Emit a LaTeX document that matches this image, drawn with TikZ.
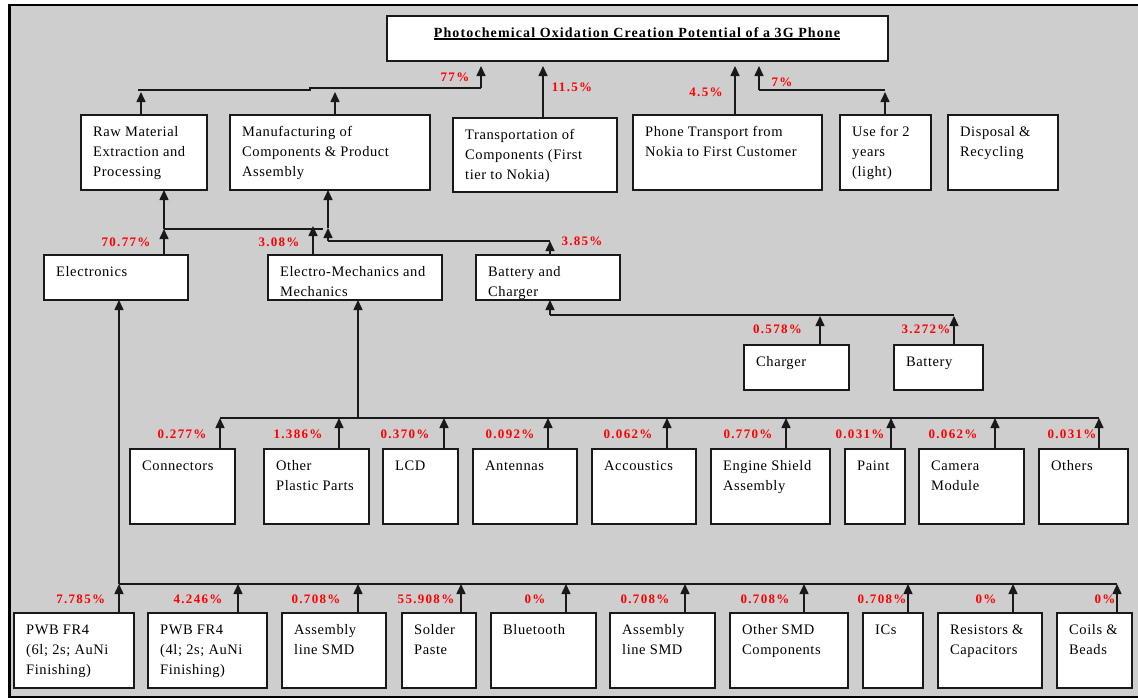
\documentclass[tikz,border=0pt]{standalone}
\usepackage{fontspec}
\setmainfont{Liberation Serif}
\newfontfamily\bodyfont{Liberation Serif}[LetterSpace=4]
\newfontfamily\pctfont{Liberation Serif}[LetterSpace=10]
\newfontfamily\ttlfont{Liberation Serif}[LetterSpace=8]
\usetikzlibrary{arrows.meta}
\definecolor{bg}{HTML}{CECECE}
\definecolor{pctred}{HTML}{FF0000}
\tikzset{
  bx/.style={draw=black!90, line width=1.8pt, fill=white, inner sep=0pt, outer sep=0pt},
  txt/.style={anchor=north west, inner sep=0pt, align=left, font=\bodyfont\fontsize{14.5}{20}\selectfont},
  pct/.style={anchor=base, inner sep=0pt, text=pctred, font=\pctfont\bfseries\fontsize{13}{15}\selectfont},
  arr/.style={draw=black!90, line width=1.5pt, -{Triangle[width=9pt,length=10pt]}},
  wire/.style={draw=black!90, line width=1.5pt},
}
\newcommand\mybox[6]{%
  \node[bx, minimum width={(#4)-(#2)}, minimum height={(#5)-(#3)}] (#1) at ({((#2)+(#4))/2},{((#3)+(#5))/2}) {};
  \node[txt] (#1-t) at ([xshift=12pt,yshift=-10.3pt]#1.north west) {\rule{0pt}{11pt}#6};}
\newcommand\mypct[4]{\node[pct] (#1) at (#2,{(#3)+4.4}) {#4};}
\begin{document}
\begin{tikzpicture}[x=1pt,y=-1pt]
\useasboundingbox (0,0) rectangle (1138,699);
\fill[white] (0,0) rectangle (1138,699);
\fill[bg] (9.5,5) rectangle (1138,697);
\draw[line width=2.6pt, black, line join=miter] (1140,5) -- (9.5,5) -- (9.5,697) -- (1140,697);

% title
\node[bx, minimum width=501, minimum height=45] (title) at (637.5,38.5) {};
\node[anchor=base, inner sep=0pt, font=\ttlfont\bfseries\fontsize{14}{16}\selectfont] (title-t) at (637,37) {Photochemical Oxidation Creation Potential of a 3G Phone};
\draw[line width=1.3pt] ([yshift=-2pt]title-t.base west) -- ([yshift=-2pt]title-t.base east);

% row 1
\mybox{raw}{81}{115}{207}{190}{Raw Material\\Extraction and\\Processing}
\mybox{mfg}{230}{115}{430}{190}{Manufacturing of\\Components \& Product\\Assembly}
\mybox{trans}{453}{118}{617}{192}{Transportation of\\Components (First\\tier to Nokia)}
\mybox{phone}{633}{115}{822}{190}{Phone Transport from\\Nokia to First Customer}
\mybox{use}{840}{115}{931}{190}{Use for 2\\years\\(light)}
\mybox{disp}{948}{115}{1058}{190}{Disposal \&\\Recycling}

% row 2
\mybox{elec}{44}{255}{188}{300}{Electronics}
\mybox{emech}{268}{255}{442}{300}{Electro-Mechanics and\\Mechanics}
\mybox{batt}{476}{255}{620}{300}{Battery and\\Charger}

% row 3
\mybox{chg}{744}{345}{849}{390}{Charger}
\mybox{bat}{894}{345}{983}{390}{Battery}

% row 4
\mybox{conn}{130}{449}{235}{524}{Connectors}
\mybox{plast}{264}{449}{369}{524}{Other\\Plastic Parts}
\mybox{lcd}{383}{449}{458}{524}{LCD}
\mybox{ant}{473}{449}{577}{524}{Antennas}
\mybox{acc}{592}{449}{696}{524}{Accoustics}
\mybox{eng}{711}{449}{830}{524}{Engine Shield\\Assembly}
\mybox{paint}{845}{449}{905}{524}{Paint}
\mybox{cam}{919}{449}{1024}{524}{Camera\\Module}
\mybox{oth}{1039}{449}{1128}{524}{Others}

% row 5
\mybox{pwba}{14}{613}{134}{688}{PWB FR4\\(6l; 2s; AuNi\\Finishing)}
\mybox{pwbb}{148}{613}{267}{688}{PWB FR4\\(4l; 2s; AuNi\\Finishing)}
\mybox{asma}{282}{613}{386}{688}{Assembly\\line SMD}
\mybox{sold}{402}{613}{476}{688}{Solder\\Paste}
\mybox{blue}{491}{613}{596}{688}{Bluetooth}
\mybox{asmb}{610}{613}{715}{688}{Assembly\\line SMD}
\mybox{osmd}{730}{613}{848}{688}{Other SMD\\Components}
\mybox{ics}{863}{613}{923}{688}{ICs}
\mybox{res}{938}{613}{1042}{688}{Resistors \&\\Capacitors}
\mybox{coil}{1057}{613}{1132}{688}{Coils \&\\Beads}

% bus coordinates
\coordinate (busA) at (0,90);
\coordinate (busB) at (0,88);
\coordinate (tipT) at (0,66);
\coordinate (busC) at (0,229);
\coordinate (busD) at (0,241);
\coordinate (busE) at (0,315);
\coordinate (busF) at (0,418);
\coordinate (busG) at (0,584);

% row 1 -> title
\draw[arr] (raw.north -| 141,0) -- ([yshift=-2pt]busA -| 141,0);
\draw[arr] (mfg.north -| 335,0) -- ([yshift=-2pt]busA -| 335,0);
\draw[wire] (busA -| 138,0) -- (busA -| 310,0) -- (busB -| 310,0) -- (busB -| 481,0);
\draw[arr] (busB -| 481,0) -- (tipT -| 481,0);
\draw[arr] (trans.north -| 543,0) -- (tipT -| 543,0);
\draw[arr] (phone.north -| 735,0) -- (tipT -| 735,0);
\draw[arr] (use.north -| 885,0) -- ([yshift=-2pt]busA -| 885,0);
\draw[wire] (busA -| 885,0) -- (busA -| 759,0);
\draw[arr] (busA -| 759,0) -- (tipT -| 759,0);
\mypct{p77}{455}{77}{77\%}
\mypct{p115}{572}{87}{11.5\%}
\mypct{p45}{706}{92}{4.5\%}
\mypct{p7}{782}{82}{7\%}

% row 2 -> row 1
\draw[arr] (elec.north -| 164,0) -- (busC -| 164,0);
\draw[arr] (emech.north -| 313,0) -- ([yshift=3pt]busC -| 313,0);
\draw[wire] (busC -| 164,0) -- (busC -| 323,0);
\draw[arr] (busC -| 164,0) -- (raw.south -| 164,0);
\draw[arr] (batt.north -| 550,0) -- (busD -| 550,0);
\draw[wire] (busD -| 550,0) -- (busD -| 328,0);
\draw[arr] (busD -| 328,0) -- ([yshift=1pt]busC -| 328,0);
\draw[arr] ([yshift=1pt]busC -| 328,0) -- (mfg.south -| 328,0);
\mypct{p7077}{126}{242}{70.77\%}
\mypct{p308}{279}{242}{3.08\%}
\mypct{p385}{582}{241}{3.85\%}

% row 3 -> battery and charger
\draw[arr] (chg.north -| 820,0) -- ([yshift=-1pt]busE -| 820,0);
\draw[arr] (bat.north -| 954,0) -- ([yshift=-1pt]busE -| 954,0);
\draw[wire] (busE -| 550,0) -- (busE -| 954,0);
\draw[arr] (busE -| 550,0) -- (batt.south -| 550,0);
\mypct{p0578}{777.5}{329}{0.578\%}
\mypct{p3272}{926}{329}{3.272\%}

% row 4 -> electro-mechanics
\foreach \n/\x in {conn/220,plast/339,lcd/444,ant/548,acc/667,eng/786,paint/891,cam/995,oth/1099}
  \draw[arr] (\n.north -| \x,0) -- (busF -| \x,0);
\draw[wire] (busF -| 220,0) -- (busF -| 1099,0);
\draw[arr] (busF -| 358,0) -- (emech.south -| 358,0);
\mypct{q1}{182}{434}{0.277\%}
\mypct{q2}{298}{434}{1.386\%}
\mypct{q3}{405}{434}{0.370\%}
\mypct{q4}{510}{434}{0.092\%}
\mypct{q5}{628}{434}{0.062\%}
\mypct{q6}{748}{434}{0.770\%}
\mypct{q7}{860}{434}{0.031\%}
\mypct{q8}{953}{434}{0.062\%}
\mypct{q9}{1072}{434}{0.031\%}

% row 5 -> electronics
\foreach \n/\x in {pwba/119,pwbb/238,asma/358,sold/461,blue/566,asmb/685,osmd/804,ics/908,res/1013,coil/1117}
  \draw[arr] (\n.north -| \x,0) -- (busG -| \x,0);
\draw[wire] (busG -| 119,0) -- (busG -| 1117,0);
\draw[arr] (busG -| 119,0) -- (elec.south -| 119,0);
\mypct{r1}{80.7}{599}{7.785\%}
\mypct{r2}{198}{599}{4.246\%}
\mypct{r3}{316}{599}{0.708\%}
\mypct{r4}{426}{599}{55.908\%}
\mypct{r5}{535}{599}{0\%}
\mypct{r6}{645}{599}{0.708\%}
\mypct{r7}{765}{599}{0.708\%}
\mypct{r8}{882}{599}{0.708\%}
\mypct{r9}{986}{599}{0\%}
\mypct{r10}{1105}{599}{0\%}
\end{tikzpicture}
\end{document}
